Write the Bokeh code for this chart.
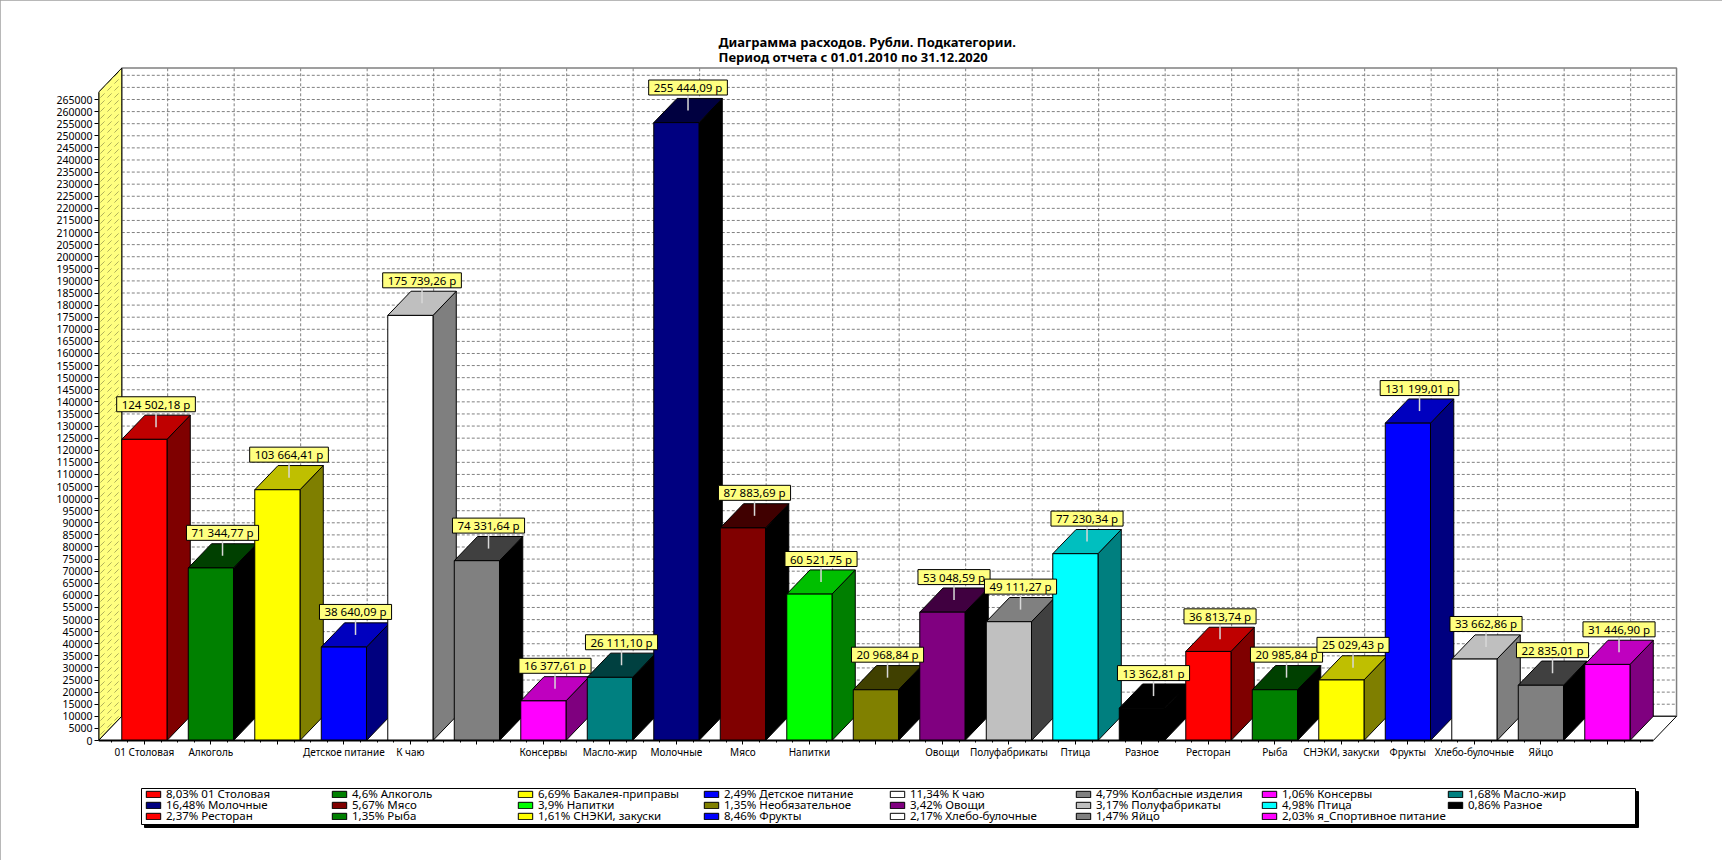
from bokeh.plotting import figure
from bokeh.models import (ColumnDataSource, FixedTicker, Legend, LegendItem,
                          Range1d, PrintfTickFormatter)
from bokeh.core.properties import value
from bokeh.embed import file_html
from bokeh.resources import INLINE

# ---------------- data ----------------
CATEGORIES = ["01 Столовая", "Алкоголь", "Бакалея-приправы", "Детское питание", "К чаю",
              "Колбасные изделия", "Консервы", "Масло-жир", "Молочные", "Мясо", "Напитки",
              "Необязательное", "Овощи", "Полуфабрикаты", "Птица", "Разное", "Ресторан",
              "Рыба", "СНЭКИ, закуски", "Фрукты", "Хлебо-булочные", "Яйцо",
              "я_Спортивное питание"]
VALUES = [124502.18, 71344.77, 103664.41, 38640.09, 175739.26, 74331.64, 16377.61,
          26111.10, 255444.09, 87883.69, 60521.75, 20968.84, 53048.59, 49111.27,
          77230.34, 13362.81, 36813.74, 20985.84, 25029.43, 131199.01, 33662.86,
          22835.01, 31446.90]
PERCENTS = ["8,03", "4,6", "6,69", "2,49", "11,34", "4,79", "1,06", "1,68", "16,48",
            "5,67", "3,9", "1,35", "3,42", "3,17", "4,98", "0,86", "2,37", "1,35",
            "1,61", "8,46", "2,17", "1,47", "2,03"]
AXIS_LABELS = ["01 Столовая", "Алкоголь", "", "Детское питание", "К чаю", "", "Консервы",
               "Масло-жир", "Молочные", "Мясо", "Напитки", "", "Овощи", "Полуфабрикаты",
               "Птица", "Разное", "Ресторан", "Рыба", "СНЭКИ, закуски", "Фрукты",
               "Хлебо-булочные", "Яйцо", ""]
COLORS = ["#FF0000", "#008000", "#FFFF00", "#0000FF", "#FFFFFF", "#808080", "#FF00FF",
          "#008080", "#000080", "#800000", "#00FF00", "#808000", "#800080", "#C0C0C0",
          "#00FFFF", "#000000", "#FF0000", "#008000", "#FFFF00", "#0000FF", "#FFFFFF",
          "#808080", "#FF00FF"]
Y_TICKS = list(range(0, 265001, 5000))
TITLE_1 = "Диаграмма расходов. Рубли. Подкатегории."
TITLE_2 = "Период отчета с 01.01.2010 по 31.12.2020"

# ---------------- geometry / style ----------------
FONT = "Noto Sans"
PX_PER_UNIT = 641.0 / 265000.0
SLOT_PX = 66.5
W = 0.34          # half width of a bar front (slots)
DX = 0.35         # 3D depth in x (slots)
DY = 10000.0      # 3D depth in y (value units)
WALL_TOP = 268000.0
N = len(VALUES)
FL = -(W + DX)
FR = (N - 1) + W + DX

MB_L, MB_R, MB_T, MB_B = 98, 42, 66, 30
FRAME_W, FRAME_H = 1582, 764
ZERO_PX = 674                      # zero line below the frame top
X_END = FL + FRAME_W / SLOT_PX
Y_TOP = ZERO_PX / PX_PER_UNIT
Y_BOT = Y_TOP - FRAME_H / PX_PER_UNIT


def dark(c, q):
    r, g, b = (int(c[i:i + 2], 16) for i in (1, 3, 5))
    return "#%02X%02X%02X" % (max(0, r - q), max(0, g - q), max(0, b - q))


def money(v):
    s = f"{v:,.2f}".replace(",", " ").replace(".", ",")
    return s + " р"


p = figure(frame_width=FRAME_W, frame_height=FRAME_H, output_backend="svg",
           toolbar_location=None,
           x_range=Range1d(FL, X_END), y_range=Range1d(Y_BOT, Y_TOP),
           min_border_left=MB_L, min_border_right=MB_R, min_border_top=MB_T,
           min_border_bottom=MB_B, title=TITLE_1 + "\n" + TITLE_2)
p.outline_line_color = None
p.background_fill_color = "white"
p.border_fill_color = "white"
p.xgrid.visible = False
p.ygrid.visible = False
p.styles = {"outline": "1px solid #A0A0A0", "outline-offset": "-1px"}

p.title.align = "left"
p.title.offset = 620
p.title.standoff = 0
p.title.text_font = FONT
p.title.text_font_size = "13px"
p.title.text_font_style = "bold"
p.title.text_color = "black"
p.title.text_line_height = 0.87

# ---------------- walls / floor ----------------
p.patch([FL + DX, FR + DX, FR + DX, FL + DX], [DY, DY, WALL_TOP + DY, WALL_TOP + DY],
        fill_color="white", line_color="#808080", line_width=1.5)

gy = [DY + t for t in Y_TICKS[1:]]
p.segment(x0=[FL + DX] * len(gy), y0=gy, x1=[FR + DX] * len(gy), y1=gy,
          line_color="#808080", line_dash="3 2", line_width=1)
gx = [k + DX for k in range(N)]
p.segment(x0=gx, y0=[DY] * N, x1=gx, y1=[WALL_TOP + DY] * N,
          line_color="#808080", line_dash="3 2", line_width=1)

p.patch([FL, FL, FL + DX, FL + DX], [0, WALL_TOP, WALL_TOP + DY, DY],
        fill_color="#FFFF80", line_color="black", line_width=1,
        hatch_pattern="right_diagonal_dash", hatch_color="#9A9A50", hatch_scale=7,
        hatch_weight=0.8)
p.patch([FL, FR, FR + DX, FL + DX], [0, 0, DY, DY],
        fill_color="white", line_color="black", line_width=1)

# ---------------- bars ----------------
sx, sy, tx, ty, fx, fy = [], [], [], [], [], []
for k, v in enumerate(VALUES):
    sx.append([k + W, k + W + DX, k + W + DX, k + W])
    sy.append([0, DY, v + DY, v])
    tx.append([k - W, k + W, k + W + DX, k - W + DX])
    ty.append([v, v, v + DY, v + DY])
    fx.append([k - W, k + W, k + W, k - W])
    fy.append([0, 0, v, v])
side_src = ColumnDataSource(dict(xs=sx, ys=sy, c=[dark(c, 128) for c in COLORS]))
top_src = ColumnDataSource(dict(xs=tx, ys=ty, c=[dark(c, 64) for c in COLORS]))
front_src = ColumnDataSource(dict(xs=fx, ys=fy, c=COLORS, name=CATEGORIES))
p.patches("xs", "ys", source=side_src, fill_color="c", line_color="black", line_width=1)
p.patches("xs", "ys", source=top_src, fill_color="c", line_color="black", line_width=1)
front_r = p.patches("xs", "ys", source=front_src, fill_color="c", line_color="black",
                    line_width=1)

p.segment(x0=[FL, FL], y0=[0, 0], x1=[FL, FR], y1=[WALL_TOP, 0],
          line_color="black", line_width=2)

# value labels
lx = [k + DX / 2 for k in range(N)]
lead0 = [v + DY / 2 for v in VALUES]
lead1 = [v + DY / 2 + 16 / PX_PER_UNIT for v in VALUES]
p.segment(x0=lx, y0=lead0, x1=lx, y1=lead1, line_color="#D8D8D8", line_width=1.5)
lab_src = ColumnDataSource(dict(x=lx, y=[v + DY / 2 + 23 / PX_PER_UNIT for v in VALUES],
                                t=[money(v) for v in VALUES]))
p.text(x="x", y="y", text="t", source=lab_src, text_font=value(FONT),
       text_font_size="11.5px", text_align="center", text_baseline="middle",
       text_color="black", background_fill_color="#FFFF80", border_line_color="black",
       border_line_width=1, padding=dict(left=5, right=5, top=0, bottom=0))

# ---------------- axes ----------------
xa = p.xaxis[0]
xa.fixed_location = 0
minor = [k + q for k in range(-1, N) for q in (0.25, 0.5, 0.75) if FL <= k + q <= FR]
xa.ticker = FixedTicker(ticks=list(range(N)), minor_ticks=minor)
xa.major_label_overrides = {k: AXIS_LABELS[k] for k in range(N)}
xa.axis_line_color = None
xa.major_tick_out = 4
xa.major_tick_in = 0
xa.minor_tick_out = 2
xa.minor_tick_in = 0
xa.major_tick_line_color = "black"
xa.minor_tick_line_color = "black"
xa.major_label_standoff = 0
xa.major_label_text_font = FONT
xa.major_label_text_font_size = "10px"
xa.major_label_text_color = "black"

ya = p.yaxis[0]
ya.ticker = FixedTicker(ticks=Y_TICKS)
ya.formatter = PrintfTickFormatter(format="%d")
ya.axis_line_color = None
ya.major_tick_out = 4
ya.major_tick_in = 0
ya.minor_tick_line_color = None
ya.major_tick_line_color = "black"
ya.major_label_standoff = 2
ya.major_label_text_font = FONT
ya.major_label_text_font_size = "10.5px"
ya.major_label_text_color = "black"

# ---------------- legend ----------------
LEG_X = 43                      # box left, px from frame left
LEG_BOTTOM, LEG_TOP = 6, 42     # box edges, px above frame bottom
LEG_INSET = 3
LEG_COL_W, LEG_GW, LEG_STAND = 186, 18, 4
LEG_FS = 11.5
LEG_ITEM_H = 16.5
ROW_CENTERS = [37, 26, 15]      # px above frame bottom
ROWS = [list(range(0, 8)), list(range(8, 16)), list(range(16, N))]
leg_w = 8 * LEG_COL_W + 2 * LEG_INSET

# legend box with drop shadow
p.quad(left=[FL + (LEG_X + 3) / SLOT_PX], right=[FL + (LEG_X + leg_w + 3) / SLOT_PX],
       bottom=[Y_BOT + (LEG_BOTTOM - 3) / PX_PER_UNIT],
       top=[Y_BOT + (LEG_TOP - 3) / PX_PER_UNIT],
       fill_color="black", line_color="black")
p.quad(left=[FL + LEG_X / SLOT_PX], right=[FL + (LEG_X + leg_w) / SLOT_PX],
       bottom=[Y_BOT + LEG_BOTTOM / PX_PER_UNIT], top=[Y_BOT + LEG_TOP / PX_PER_UNIT],
       fill_color="white", line_color="black", line_width=1)

for r, idxs in enumerate(ROWS):
    items = [LegendItem(label=f"{PERCENTS[i]}% {CATEGORIES[i]}", renderers=[front_r],
                        index=i) for i in idxs]
    lg = Legend(items=items, orientation="horizontal",
                location=(LEG_X + LEG_INSET, ROW_CENTERS[r] - LEG_ITEM_H / 2),
                margin=0, padding=0, spacing=0,
                glyph_width=LEG_GW, glyph_height=8,
                label_width=LEG_COL_W - LEG_GW - LEG_STAND,
                label_height=10, label_standoff=LEG_STAND,
                label_text_font=FONT, label_text_font_size=f"{LEG_FS}px",
                label_text_color="black",
                border_line_color=None, background_fill_alpha=0.0)
    p.add_layout(lg)

open("out.html", "w").write(file_html(p, INLINE))
